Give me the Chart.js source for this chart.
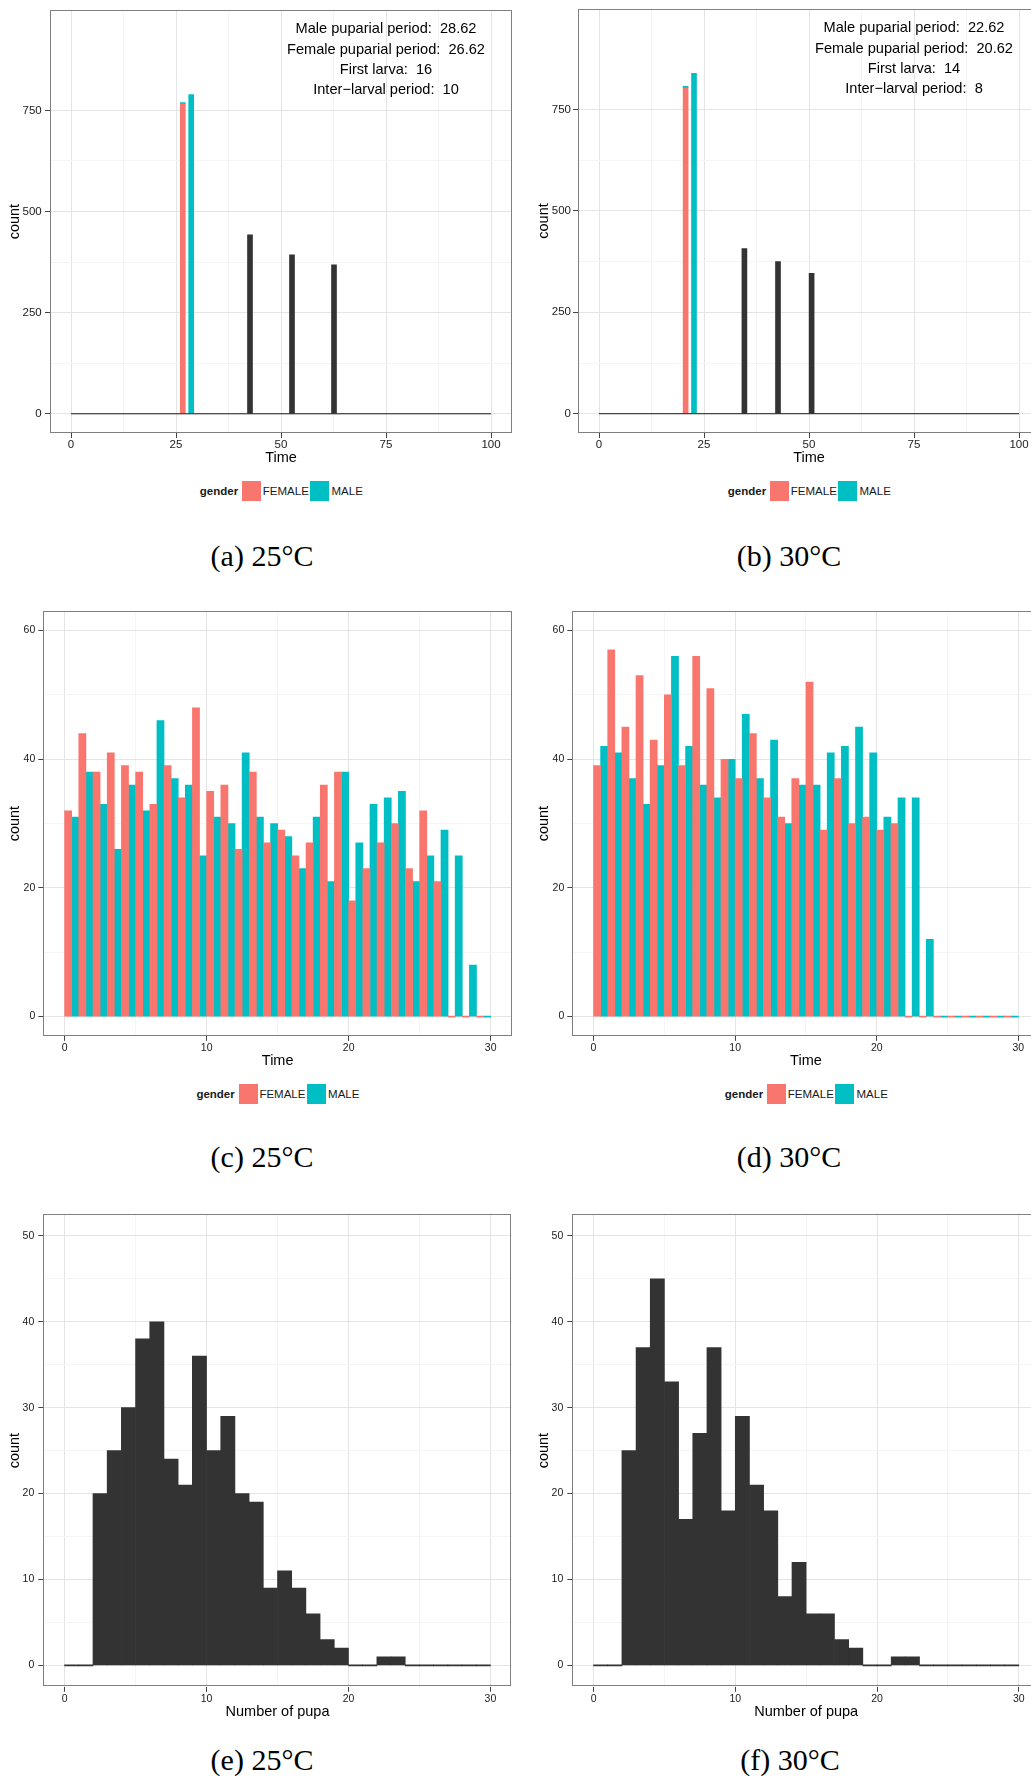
<!DOCTYPE html>
<html>
<head>
<meta charset="utf-8">
<script src="https://cdn.jsdelivr.net/npm/chart.js@4.4.1/dist/chart.umd.min.js"></script>
<style>
html, body { margin: 0; padding: 0; background: #fff; }
#page { position: relative; width: 1031px; height: 1778px; overflow: hidden; background: #fff; }
canvas { position: absolute; }
.legend { position: absolute; height: 20px; width: 170px; font: 11.5px 'Liberation Sans', Arial, sans-serif; color: #1a1a1a; }
.legend span { position: absolute; top: 0; line-height: 20px; white-space: nowrap; }
.legend .key { width: 19px; height: 20px; }
.legend .ttl { font-weight: bold; }
.caption { position: absolute; font: 30px 'Liberation Serif', 'Times New Roman', serif; color: #000; white-space: nowrap; transform: translate(-50%, -50%); }
</style>
</head>
<body>
<div id="page">
  <canvas id="chartA" width="520" height="475" style="left:0px;top:0px"></canvas>
  <canvas id="chartB" width="530" height="475" style="left:515px;top:0px"></canvas>
  <canvas id="chartC" width="520" height="480" style="left:0px;top:590px"></canvas>
  <canvas id="chartD" width="530" height="480" style="left:515px;top:590px"></canvas>
  <canvas id="chartE" width="520" height="531" style="left:0px;top:1190px"></canvas>
  <canvas id="chartF" width="530" height="531" style="left:515px;top:1190px"></canvas>

  <div class="legend" style="left:199.8px;top:481px">
    <span class="ttl" style="left:0">gender</span>
    <span class="key" style="left:42.4px;background:#F8766D"></span>
    <span style="left:63px">FEMALE</span>
    <span class="key" style="left:110.7px;background:#00BFC4"></span>
    <span style="left:131.7px">MALE</span>
  </div>
  <div class="legend" style="left:727.8px;top:481px">
    <span class="ttl" style="left:0">gender</span>
    <span class="key" style="left:42.4px;background:#F8766D"></span>
    <span style="left:63px">FEMALE</span>
    <span class="key" style="left:110.7px;background:#00BFC4"></span>
    <span style="left:131.7px">MALE</span>
  </div>
  <div class="legend" style="left:196.4px;top:1083.8px">
    <span class="ttl" style="left:0">gender</span>
    <span class="key" style="left:42.4px;background:#F8766D"></span>
    <span style="left:63px">FEMALE</span>
    <span class="key" style="left:110.7px;background:#00BFC4"></span>
    <span style="left:131.7px">MALE</span>
  </div>
  <div class="legend" style="left:724.8px;top:1083.8px">
    <span class="ttl" style="left:0">gender</span>
    <span class="key" style="left:42.4px;background:#F8766D"></span>
    <span style="left:63px">FEMALE</span>
    <span class="key" style="left:110.7px;background:#00BFC4"></span>
    <span style="left:131.7px">MALE</span>
  </div>

  <div class="caption" style="left:262px;top:556px">(a) 25°C</div>
  <div class="caption" style="left:789px;top:556px">(b) 30°C</div>
  <div class="caption" style="left:262px;top:1157px">(c) 25°C</div>
  <div class="caption" style="left:789px;top:1157px">(d) 30°C</div>
  <div class="caption" style="left:262px;top:1760px">(e) 25°C</div>
  <div class="caption" style="left:790px;top:1760px">(f) 30°C</div>
</div>

<script>
var FEMALE = '#F8766D', MALE = '#00BFC4', DARK = '#333333';

// (a) 25°C : counts at puparial / larval times
var femaleTimes25 = [26.62];
var femaleCounts25 = [766];
var maleTimes25 = [26.62, 28.62];
var maleCounts25 = [3, 789];
var larvaTimes25 = [42.62, 52.62, 62.62];
var larvaCounts25 = [442, 393, 368];
var notes25 = ['Male puparial period:  28.62', 'Female puparial period:  26.62', 'First larva:  16', 'Inter\u2212larval period:  10'];

// (b) 30°C
var femaleTimes30 = [20.62];
var femaleCounts30 = [803];
var maleTimes30 = [20.62, 22.62];
var maleCounts30 = [4, 839];
var larvaTimes30 = [34.62, 42.62, 50.62];
var larvaCounts30 = [407, 375, 346];
var notes30 = ['Male puparial period:  22.62', 'Female puparial period:  20.62', 'First larva:  14', 'Inter\u2212larval period:  8'];

var noteLevels = [950, 900, 850, 800];
var noteX = 75;
var baselineTimes = [0, 100];
var baselineCounts = [0, 0];
var timeTicks100 = [0, 25, 50, 75, 100];
var countTicks1000 = [0, 250, 500, 750];

// (c), (d) : counts per time bin by gender
var binCenters = [0.5, 1.5, 2.5, 3.5, 4.5, 5.5, 6.5, 7.5, 8.5, 9.5, 10.5, 11.5, 12.5, 13.5, 14.5,
                  15.5, 16.5, 17.5, 18.5, 19.5, 20.5, 21.5, 22.5, 23.5, 24.5, 25.5, 26.5, 27.5, 28.5, 29.5];
var female25 = [32, 44, 38, 41, 39, 38, 33, 39, 34, 48, 35, 36, 26, 38, 27, 29, 25, 27, 36, 38, 18, 23, 27, 30, 23, 32, 21, 0, 0, 0];
var male25   = [31, 38, 33, 26, 36, 32, 46, 37, 36, 25, 31, 30, 41, 31, 30, 28, 23, 31, 21, 38, 27, 33, 34, 35, 21, 25, 29, 25, 8, 0];
var female30 = [39, 57, 45, 53, 43, 50, 39, 56, 51, 40, 37, 44, 34, 31, 37, 52, 29, 37, 30, 31, 29, 30, 0, 0, 0, 0, 0, 0, 0, 0];
var male30   = [42, 41, 37, 33, 39, 56, 42, 36, 34, 40, 47, 37, 43, 30, 36, 36, 41, 42, 45, 41, 31, 34, 34, 12, 0, 0, 0, 0, 0, 0];

// (e), (f) : number of pupa
var pupa25 = [0, 0, 20, 25, 30, 38, 40, 24, 21, 36, 25, 29, 20, 19, 9, 11, 9, 6, 3, 2, 0, 0, 1, 1, 0, 0, 0, 0, 0, 0];
var pupa30 = [0, 0, 25, 37, 45, 33, 17, 27, 37, 18, 29, 21, 18, 8, 12, 6, 6, 3, 2, 0, 0, 1, 1, 0, 0, 0, 0, 0, 0, 0];

var timeTicks30 = [0, 10, 20, 30];
var countTicks60 = [0, 20, 40, 60];
var countTicks50 = [0, 10, 20, 30, 40, 50];

Chart.defaults.font.family = "'Liberation Sans', Arial, sans-serif";

function pts(xs, ys) {
  return xs.map(function (x, i) { return { x: x, y: ys[i] }; });
}

// major ticks plus the ggplot style minor lines half way between
function withMinor(major) {
  var out = [];
  major.forEach(function (v, i) {
    out.push(v);
    if (i < major.length - 1) out.push((v + major[i + 1]) / 2);
  });
  return out;
}

function axis(o) {
  var isMajor = function (v) { return o.major.indexOf(v) !== -1; };
  return {
    type: 'linear',
    min: o.min,
    max: o.max,
    offset: false,
    stacked: !!o.stacked,
    afterBuildTicks: function (s) { s.ticks = withMinor(o.major).map(function (v) { return { value: v }; }); },
    afterFit: function (s) { if (o.horizontal) s.height = o.fit; else s.width = o.fit; },
    border: { display: false },
    grid: {
      offset: false,
      lineWidth: 1,
      tickLength: 5,
      color: function (c) { return c.tick && isMajor(c.tick.value) ? '#e4e4e4' : '#f5f5f5'; },
      tickColor: function (c) { return c.tick && isMajor(c.tick.value) ? '#444' : 'rgba(0,0,0,0)'; }
    },
    ticks: {
      autoSkip: false,
      maxRotation: 0,
      padding: o.tickPad,
      color: '#1a1a1a',
      font: { size: o.tickSize },
      callback: function (v) { return isMajor(v) ? String(v) : ''; }
    },
    title: {
      display: true,
      text: o.title,
      color: '#000',
      font: { size: 14.5 },
      padding: o.horizontal ? { top: 0, bottom: o.titlePad } : { top: o.titlePad, bottom: 0 }
    }
  };
}

var panelBorder = {
  id: 'panelBorder',
  afterDatasetsDraw: function (chart) {
    var a = chart.chartArea, ctx = chart.ctx;
    ctx.save();
    ctx.strokeStyle = '#7f7f7f';
    ctx.lineWidth = 1;
    ctx.strokeRect(Math.round(a.left) + 0.5, Math.round(a.top) + 0.5,
                   Math.round(a.right - a.left) - 1, Math.round(a.bottom - a.top) - 1);
    ctx.restore();
  }
};

var notesPlugin = {
  id: 'notes',
  afterDatasetsDraw: function (chart, args, opts) {
    if (!opts.lines) return;
    var ctx = chart.ctx, x = chart.scales.x, y = chart.scales.y;
    ctx.save();
    ctx.font = "14.6px 'Liberation Sans', Arial, sans-serif";
    ctx.fillStyle = '#000';
    ctx.textAlign = 'center';
    ctx.textBaseline = 'middle';
    opts.lines.forEach(function (t, i) {
      ctx.fillText(t, x.getPixelForValue(opts.x), y.getPixelForValue(opts.levels[i]));
    });
    ctx.restore();
  }
};

function timelineChart(id, pad, fitY, yTickPad, yTitlePad, female, male, larva, notes) {
  return new Chart(document.getElementById(id), {
    type: 'bar',
    data: {
      datasets: [
        { type: 'line', data: pts(baselineTimes, baselineCounts), borderColor: '#1a1a1a', borderWidth: 1, pointRadius: 0 },
        { label: 'FEMALE', data: female, backgroundColor: FEMALE },
        { label: 'MALE', data: male, backgroundColor: MALE },
        { label: 'larva', data: larva, backgroundColor: DARK }
      ]
    },
    options: {
      responsive: false,
      animation: false,
      layout: { padding: pad },
      datasets: { bar: { barThickness: 5 } },
      scales: {
        x: axis({ horizontal: true, min: -5, max: 105, major: timeTicks100, fit: 42, tickPad: 0, tickSize: 11.5, title: 'Time', titlePad: 8, stacked: true }),
        y: axis({ min: -47.5, max: 997.5, major: countTicks1000, fit: fitY, tickPad: yTickPad, tickSize: 11.5, title: 'count', titlePad: yTitlePad, stacked: true })
      },
      plugins: {
        legend: { display: false },
        tooltip: { enabled: false },
        notes: { lines: notes, levels: noteLevels, x: noteX }
      }
    },
    plugins: [panelBorder, notesPlugin]
  });
}

function histChart(id, cfg) {
  return new Chart(document.getElementById(id), {
    type: 'bar',
    data: { datasets: cfg.datasets },
    options: {
      responsive: false,
      animation: false,
      layout: { padding: cfg.pad },
      datasets: { bar: { categoryPercentage: 1, barPercentage: 1, minBarLength: 1 } },
      scales: {
        x: axis({ horizontal: true, min: -1.5, max: 31.5, major: timeTicks30, fit: cfg.fitX, tickPad: cfg.xTickPad, tickSize: 10.5, title: cfg.xTitle, titlePad: cfg.xTitlePad }),
        y: axis({ min: cfg.yMin, max: cfg.yMax, major: cfg.yTicks, fit: cfg.fitY, tickPad: cfg.yTickPad, tickSize: 10.5, title: 'count', titlePad: cfg.yTitlePad })
      },
      plugins: { legend: { display: false }, tooltip: { enabled: false } }
    },
    plugins: [panelBorder]
  });
}

timelineChart('chartA', { left: 0, top: 9, right: 8, bottom: 0 }, 50, 3.3, 6.3,
  pts(femaleTimes25, femaleCounts25), pts(maleTimes25, maleCounts25), pts(larvaTimes25, larvaCounts25), notes25);
timelineChart('chartB', { left: 0, top: 9, right: 5, bottom: 0 }, 63, 2, 20.3,
  pts(femaleTimes30, femaleCounts30), pts(maleTimes30, maleCounts30), pts(larvaTimes30, larvaCounts30), notes30);

histChart('chartC', {
  pad: { left: 0, top: 21.3, right: 8, bottom: 0 }, fitX: 34.1, fitY: 43.3,
  xTickPad: 0.8, xTitlePad: 0.3, yTickPad: 3, yTitlePad: 6.3, xTitle: 'Time',
  yMin: -3, yMax: 63, yTicks: countTicks60,
  datasets: [
    { label: 'FEMALE', data: pts(binCenters, female25), backgroundColor: FEMALE },
    { label: 'MALE', data: pts(binCenters, male25), backgroundColor: MALE }
  ]
});
histChart('chartD', {
  pad: { left: 0, top: 21.3, right: 5.4, bottom: 0 }, fitX: 34.1, fitY: 57.3,
  xTickPad: 0.8, xTitlePad: 0.3, yTickPad: 3, yTitlePad: 20.6, xTitle: 'Time',
  yMin: -3, yMax: 63, yTicks: countTicks60,
  datasets: [
    { label: 'FEMALE', data: pts(binCenters, female30), backgroundColor: FEMALE },
    { label: 'MALE', data: pts(binCenters, male30), backgroundColor: MALE }
  ]
});
histChart('chartE', {
  pad: { left: 0, top: 24.4, right: 8.3, bottom: 0 }, fitX: 34.2, fitY: 43.3,
  xTickPad: 0.7, xTitlePad: 0.3, yTickPad: 4, yTitlePad: 6.3, xTitle: 'Number of pupa',
  yMin: -2.5, yMax: 52.5, yTicks: countTicks50,
  datasets: [{ label: 'pupa', data: pts(binCenters, pupa25), backgroundColor: DARK }]
});
histChart('chartF', {
  pad: { left: 0, top: 24.4, right: 5, bottom: 0 }, fitX: 34.2, fitY: 57.3,
  xTickPad: 0.7, xTitlePad: 0.3, yTickPad: 4, yTitlePad: 20.6, xTitle: 'Number of pupa',
  yMin: -2.5, yMax: 52.5, yTicks: countTicks50,
  datasets: [{ label: 'pupa', data: pts(binCenters, pupa30), backgroundColor: DARK }]
});
</script>
</body>
</html>
